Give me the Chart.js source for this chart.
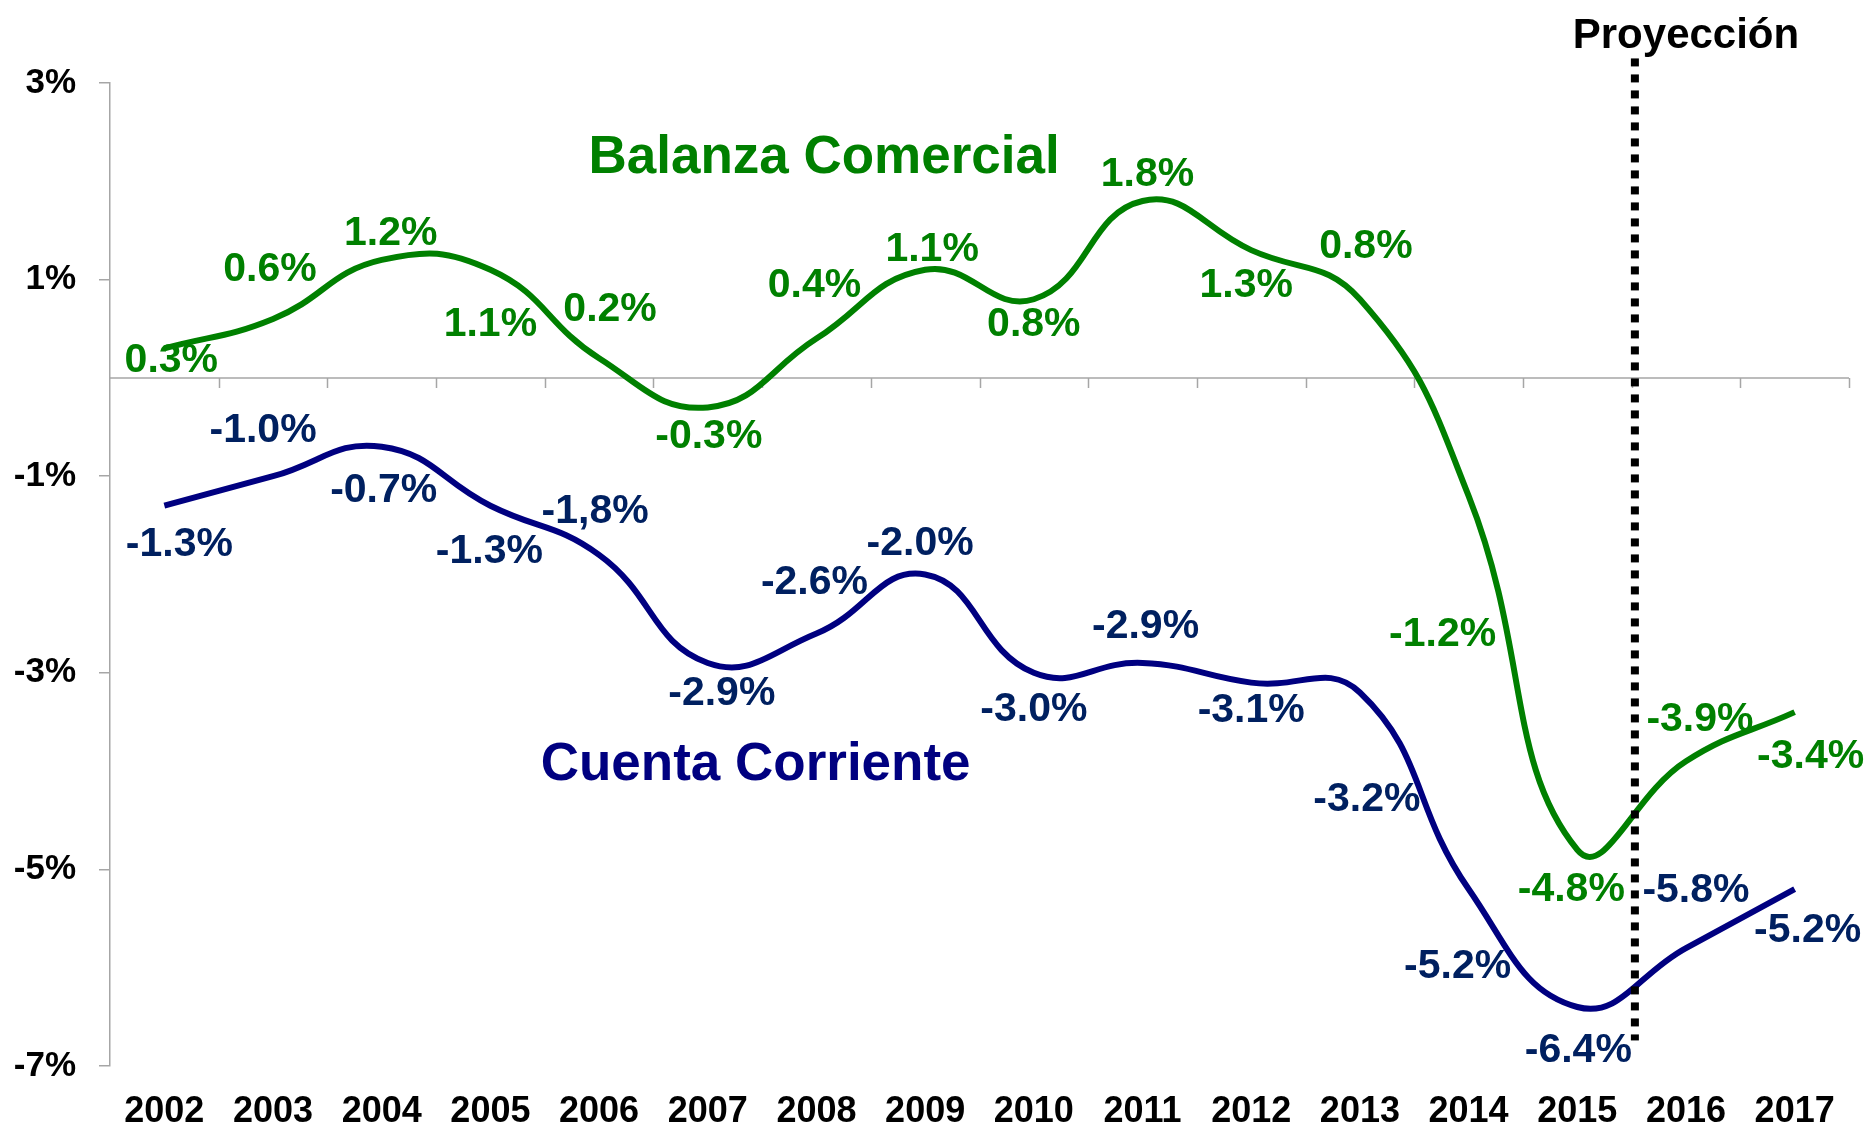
<!DOCTYPE html>
<html>
<head>
<meta charset="utf-8">
<script src="https://cdn.jsdelivr.net/npm/chart.js@4/dist/chart.umd.min.js"></script>
<style>
  html, body { margin: 0; padding: 0; background: #ffffff; }
  #wrap { width: 1872px; height: 1127px; }
</style>
</head>
<body>
<div id="wrap"><canvas id="c" width="1872" height="1127"></canvas></div>
<script>
// ---- data ----
const years = ['2002','2003','2004','2005','2006','2007','2008','2009','2010','2011','2012','2013','2014','2015','2016','2017'];
const balanzaComercial = [0.3, 0.6, 1.2, 1.1, 0.2, -0.3, 0.4, 1.1, 0.8, 1.8, 1.3, 0.8, -1.2, -4.8, -3.9, -3.4];
const cuentaCorriente = [-1.3, -1.0, -0.7, -1.3, -1.8, -2.9, -2.6, -2.0, -3.0, -2.9, -3.1, -3.2, -5.2, -6.4, -5.8, -5.2];
const balanzaLabels = ['0.3%','0.6%','1.2%','1.1%','0.2%','-0.3%','0.4%','1.1%','0.8%','1.8%','1.3%','0.8%','-1.2%','-4.8%','-3.9%','-3.4%'];
const cuentaLabels = ['-1.3%','-1.0%','-0.7%','-1.3%','-1,8%','-2.9%','-2.6%','-2.0%','-3.0%','-2.9%','-3.1%','-3.2%','-5.2%','-6.4%','-5.8%','-5.2%'];
const yTicks = [-7, -5, -3, -1, 1, 3];
const seriesNames = ['Balanza Comercial', 'Cuenta Corriente'];
const projectionLabel = 'Proyección';

// ---- label placement (style: pixel offsets from each point) ----
const balanzaOffsets = [[7,9],[-3,-53],[9,-30],[0,52],[11,-52],[1,26],[-2,-56],[7,-23],[0,22],[5,-30],[-5,32],[6,-56],[-26,135],[-6,37],[14,-45],[16,41]];
const cuentaOffsets = [[15,36],[-10,-49],[2,41],[-1,43],[-4,-47],[14,27],[-2,-54],[-5,-34],[0,34],[3,-40],[0,25],[7,104],[-11,74],[1,40],[10,-61],[13,38]];

const GREEN = '#008000';
const NAVY = '#000080';
const NAVY_LABEL = '#002060';
const AXIS_GRAY = '#A6A6A6';
const FONT = '"Liberation Sans", Arial, Helvetica, sans-serif';

const annotPlugin = {
  id: 'annot',
  beforeDatasetsDraw(chart) {
    const {ctx, scales: {x, y}, chartArea} = chart;
    const y0 = y.getPixelForValue(0);
    ctx.save();
    ctx.strokeStyle = AXIS_GRAY;
    ctx.lineWidth = 1.5;
    ctx.beginPath();
    ctx.moveTo(chartArea.left, y0);
    ctx.lineTo(chartArea.right, y0);
    for (let i = 1; i <= years.length; i++) {
      const px = Math.round(x.getPixelForValue(i - 0.5)) + 0.5;
      ctx.moveTo(px, y0);
      ctx.lineTo(px, y0 + 10);
    }
    ctx.stroke();
    ctx.restore();
  },
  afterDatasetsDraw(chart) {
    const {ctx, scales: {x, y}} = chart;
    ctx.save();
    // projection divider
    const dx = x.getPixelForValue(13.53);
    ctx.strokeStyle = '#000000';
    ctx.lineWidth = 8;
    ctx.setLineDash([8, 8]);
    ctx.beginPath();
    ctx.moveTo(dx, y.getPixelForValue(3.25));
    ctx.lineTo(dx, y.getPixelForValue(-6.74));
    ctx.stroke();
    ctx.setLineDash([]);

    // projection label
    ctx.fillStyle = '#000000';
    ctx.font = 'bold 42px ' + FONT;
    ctx.textAlign = 'center';
    ctx.textBaseline = 'alphabetic';
    ctx.fillText(projectionLabel, x.getPixelForValue(14.0), y.getPixelForValue(3.36));

    // series names
    ctx.font = 'bold 53px ' + FONT;
    ctx.fillStyle = GREEN;
    ctx.fillText(seriesNames[0], x.getPixelForValue(6.07), y.getPixelForValue(2.08));
    ctx.fillStyle = NAVY;
    ctx.fillText(seriesNames[1], x.getPixelForValue(5.44), y.getPixelForValue(-4.09));

    // data labels
    ctx.font = 'bold 41px ' + FONT;
    const cap = 41 * 0.716 / 2;
    const drawLabels = (dsIndex, labels, offsets, color) => {
      const meta = chart.getDatasetMeta(dsIndex);
      ctx.fillStyle = color;
      meta.data.forEach((pt, i) => {
        const [ox, oy] = offsets[i];
        ctx.fillText(labels[i], pt.x + ox, pt.y + oy + cap);
      });
    };
    drawLabels(0, balanzaLabels, balanzaOffsets, GREEN);
    drawLabels(1, cuentaLabels, cuentaOffsets, NAVY_LABEL);
    ctx.restore();
  }
};

new Chart(document.getElementById('c'), {
  type: 'line',
  data: {
    labels: years,
    datasets: [
      { label: seriesNames[0], data: balanzaComercial, borderColor: GREEN, borderWidth: 6, pointRadius: 0, tension: 0.45, fill: false },
      { label: seriesNames[1], data: cuentaCorriente, borderColor: NAVY, borderWidth: 6, pointRadius: 0, tension: 0.45, fill: false }
    ]
  },
  plugins: [annotPlugin],
  options: {
    responsive: false,
    animation: false,
    layout: { padding: { top: 83, right: 23, left: 0, bottom: 0 } },
    plugins: { legend: { display: false }, tooltip: { enabled: false } },
    scales: {
      x: {
        offset: true,
        grid: { display: false, drawTicks: false },
        border: { display: false },
        ticks: { color: '#000000', font: { family: FONT, size: 36, weight: 'bold' }, padding: 24, maxRotation: 0, autoSkip: false },
        afterFit(s) { s.height = 61; }
      },
      y: {
        min: -7, max: 3,
        afterBuildTicks(s) { s.ticks = yTicks.map(v => ({ value: v })); },
        grid: { drawOnChartArea: false, drawTicks: true, tickLength: 11, color: AXIS_GRAY, lineWidth: 1.5 },
        border: { display: true, color: AXIS_GRAY, width: 1.5 },
        ticks: { color: '#000000', font: { family: FONT, size: 35, weight: 'bold' }, padding: 23, callback: v => v + '%' },
        afterFit(s) { s.width = 110; }
      }
    }
  }
});
</script>
</body>
</html>
